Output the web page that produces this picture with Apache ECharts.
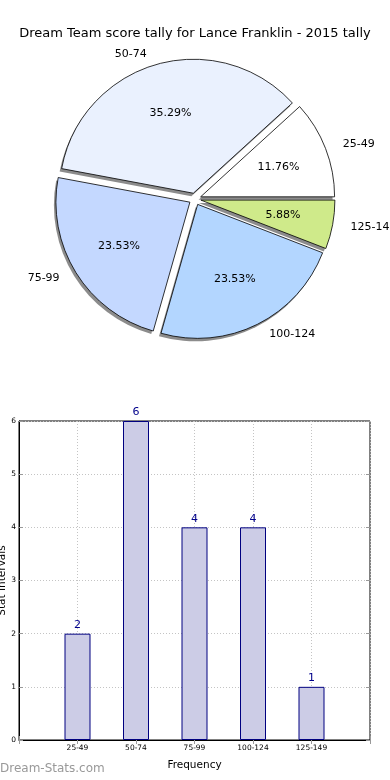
<!DOCTYPE html>
<html>
<head>
<meta charset="utf-8">
<script src="https://cdn.jsdelivr.net/npm/echarts@6/dist/echarts.min.js"></script>
<style>html,body{margin:0;padding:0;background:#fff;}#c{width:390px;height:780px;}</style>
</head>
<body>
<div id="c"></div>
<script>
var titleText = 'Dream Team score tally for Lance Franklin - 2015 tally';
var categories = ['25-49', '50-74', '75-99', '100-124', '125-149'];
var counts = [2, 6, 4, 4, 1];
var pieColors = ['#ffffff', '#eaf1fe', '#c4d8ff', '#b3d6ff', '#cfea8a'];
var yTicks = [0, 1, 2, 3, 4, 5, 6];
var FONT = 'DejaVu Sans';

var total = counts.reduce(function (a, b) { return a + b; }, 0);
var pieData = categories.map(function (c, i) {
  return { name: c, value: counts[i], selected: true, itemStyle: { color: pieColors[i] } };
});
var plainPie = function () {
  return categories.map(function (c, i) { return { name: c, value: counts[i], selected: true }; });
};
var axisCats = [''].concat(categories).concat(['']);
var barData = [null].concat(counts).concat([null]);

var PC = [195, 199], PR = 134;
var chart = echarts.init(document.getElementById('c'), null, { renderer: 'canvas' });
chart.setOption({
  animation: false,
  backgroundColor: '#fff',
  title: {
    text: titleText, left: 'center', top: 22,
    textStyle: { fontFamily: FONT, fontSize: 13, fontWeight: 'normal', color: '#000' }
  },
  graphic: [{
    type: 'text', left: 0, top: 763,
    style: { text: 'Dream-Stats.com', fontFamily: FONT, fontSize: 12, fill: '#999' }
  }],
  grid: { left: 19, right: 20, top: 421, bottom: 40, outerBoundsMode: 'none', containLabel: false,
    show: true, borderColor: '#000', borderWidth: 1, backgroundColor: 'transparent' },
  xAxis: [{
    type: 'category', data: axisCats, boundaryGap: false,
    name: 'Frequency', nameLocation: 'middle', nameGap: 20,
    nameTextStyle: { fontFamily: FONT, fontSize: 10.5, color: '#000' },
    axisLine: { lineStyle: { color: '#000', width: 1 } },
    axisTick: { inside: true, length: 4, lineStyle: { color: '#999' } },
    axisLabel: { fontFamily: FONT, fontSize: 7.5, color: '#000', margin: 4, interval: 0 },
    splitLine: { show: true, lineStyle: { color: '#c4c4c4', type: [1, 2], width: 1 } }
  }, {
    type: 'category', data: axisCats, boundaryGap: false, position: 'top',
    axisLine: { show: false }, axisLabel: { show: false },
    axisTick: { inside: true, length: 4, lineStyle: { color: '#999' } }, splitLine: { show: false }
  }],
  yAxis: [{
    type: 'value', min: 0, max: 6, interval: 1,
    name: 'Stat Intervals', nameLocation: 'middle', nameGap: 11, nameRotate: 90, nameMoveOverlap: false,
    nameTextStyle: { fontFamily: FONT, fontSize: 10.5, color: '#000' },
    axisLine: { show: true, lineStyle: { color: '#000', width: 1 } },
    axisTick: { show: true, inside: true, length: 4, lineStyle: { color: '#999' } },
    axisLabel: { fontFamily: FONT, fontSize: 7.5, color: '#000', margin: 3,
      formatter: function (v) { return yTicks.indexOf(v) >= 0 ? String(v) : ''; } },
    splitLine: { show: true, lineStyle: { color: '#c4c4c4', type: [1, 2], width: 1 } }
  }, {
    type: 'value', min: 0, max: 6, interval: 1, position: 'right',
    axisLine: { show: false }, axisLabel: { show: false },
    axisTick: { show: true, inside: true, length: 4, lineStyle: { color: '#999' } }, splitLine: { show: false }
  }],
  series: [{
    // shadow layer
    type: 'pie',
    center: [PC[0] - 2, PC[1] + 3], radius: [0, PR],
    clockwise: false, startAngle: 0,
    selectedMode: 'multiple', selectedOffset: 6,
    data: plainPie(),
    itemStyle: { color: '#8c8c8c', borderWidth: 0 },
    label: { show: false }, labelLine: { show: false },
    emphasis: { disabled: true }, silent: true, z: 1
  }, {
    type: 'pie',
    center: PC, radius: [0, PR],
    clockwise: false, startAngle: 0,
    selectedMode: 'multiple', selectedOffset: 6,
    avoidLabelOverlap: false,
    data: pieData,
    itemStyle: { borderColor: '#000', borderWidth: 0.8 },
    label: { show: true, position: 'outside', formatter: '{b}', fontFamily: FONT, fontSize: 11, color: '#000', overflow: 'none' },
    labelLine: { show: false, length: 11, length2: 2 },
    emphasis: { disabled: true },
    silent: true, z: 2
  }, {
    type: 'pie',
    center: PC, radius: [0, PR * 1.2],
    clockwise: false, startAngle: 0,
    selectedMode: 'multiple', selectedOffset: 6,
    data: plainPie(),
    itemStyle: { color: 'rgba(0,0,0,0)', borderWidth: 0 },
    label: { show: true, position: 'inside', fontFamily: FONT, fontSize: 11, color: '#000',
      formatter: function (p) { return (p.value / total * 100).toFixed(2) + '%'; } },
    emphasis: { disabled: true },
    silent: true, z: 3
  }, {
    type: 'bar', xAxisIndex: 0, yAxisIndex: 0,
    data: barData, barWidth: 26,
    itemStyle: { color: '#cccce6', borderColor: '#000080', borderWidth: 1 },
    label: { show: true, position: 'top', distance: 3, fontFamily: FONT, fontSize: 11, color: '#00008b' },
    z: 1
  }]
});
</script>
</body>
</html>
